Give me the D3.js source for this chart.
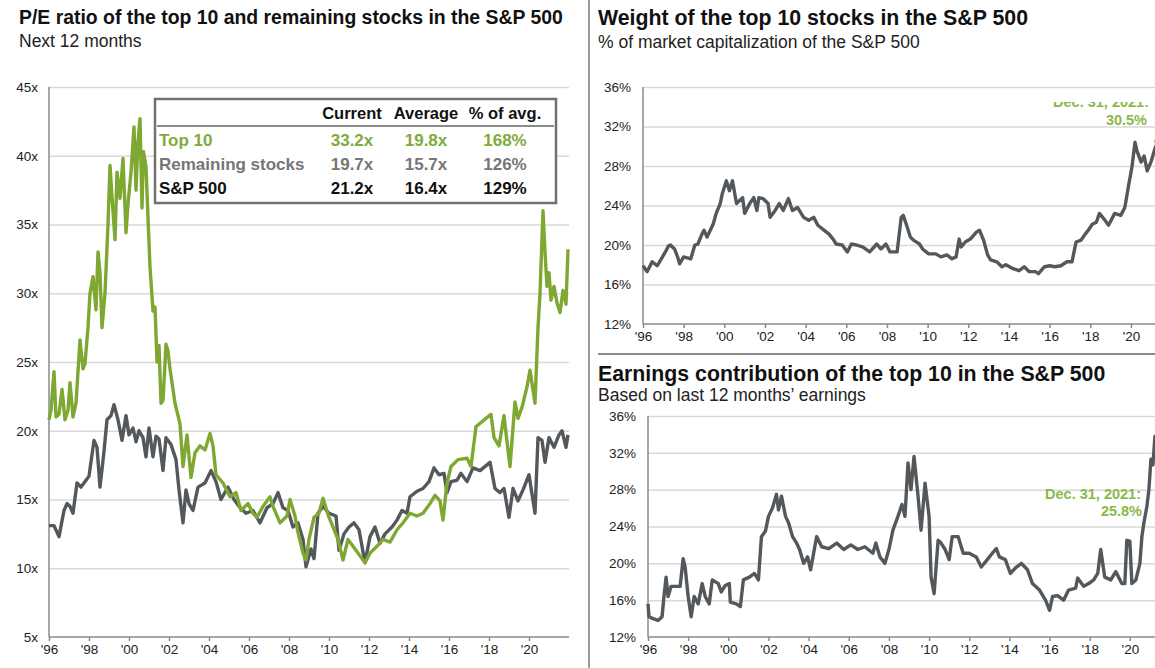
<!DOCTYPE html>
<html>
<head>
<meta charset="utf-8">
<script src="https://cdn.jsdelivr.net/npm/d3@7"></script>
<style>
  body { margin: 0; background: #fff; }
  svg text { font-family: "Liberation Sans", Arial, sans-serif; }
  .grid line { stroke: #d9d9d9; stroke-width: 1.5; }
  .grid path { display: none; }
  .axis path, .axis line { stroke: #8a8a8a; stroke-width: 1.5; }
  .axis text { fill: #222; font-size: 13.5px; }
</style>
</head>
<body>
<svg id="chart" width="1155" height="668"></svg>
<script>
// ---- data ----
const yearTicks = d3.range(1996, 2021, 2);
const peTicks = [5, 10, 15, 20, 25, 30, 35, 40, 45];
const pctTicks = [12, 16, 20, 24, 28, 32, 36];

const top10Dates = [1996.0,1996.1,1996.25,1996.35,1996.5,1996.65,1996.8,1996.95,1997.05,1997.2,1997.35,1997.55,1997.7,1997.8,1997.95,
  1998.05,1998.2,1998.35,1998.45,1998.55,1998.65,1998.8,1998.95,1999.05,1999.15,1999.3,1999.4,1999.55,1999.7,1999.85,1999.95,
  2000.1,2000.25,2000.35,2000.45,2000.55,2000.65,2000.72,2000.85,2000.95,2001.05,2001.2,2001.3,2001.4,2001.5,2001.6,2001.7,2001.85,
  2001.95,2002.05,2002.3,2002.55,2002.7,2002.9,2003.1,2003.3,2003.55,2003.8,2004.05,2004.2,2004.35,2004.7,2005.05,2005.35,2005.6,
  2005.95,2006.2,2006.4,2006.7,2007.05,2007.2,2007.55,2007.9,2008.05,2008.3,2008.45,2008.7,2008.85,2009.0,2009.25,2009.5,2009.7,
  2009.95,2010.2,2010.45,2010.7,2010.95,2011.2,2011.55,2011.8,2012.05,2012.4,2012.7,2013.05,2013.4,2013.7,2014.05,2014.4,2014.7,
  2015.05,2015.3,2015.55,2015.7,2015.9,2016.1,2016.45,2016.9,2017.1,2017.35,2017.6,2017.85,2018.1,2018.25,2018.5,2018.75,2018.9,
  2019.05,2019.3,2019.45,2019.65,2019.9,2020.05,2020.3,2020.45,2020.55,2020.7,2020.8,2020.9,2021.0,2021.1,2021.25,2021.4,2021.55,
  2021.7,2021.85,2021.95];
const top10PE = [20.8,21.5,24.3,21.0,21.2,23.0,20.8,21.5,23.5,21.0,22.0,26.6,24.5,24.9,27.5,
  30.0,31.2,28.8,33.0,31.5,27.5,30.0,35.0,39.3,37.0,33.9,38.8,36.9,39.8,34.4,36.5,
  38.8,42.1,37.5,41.0,42.7,36.2,40.3,39.2,35.5,31.9,28.7,29.0,25.0,26.2,22.0,22.2,26.3,
  25.8,24.5,22.0,20.5,17.4,19.7,16.6,18.4,18.9,18.6,19.8,18.9,16.8,16.2,15.2,15.5,14.2,
  14.7,14.0,13.7,14.5,15.2,14.5,13.3,13.8,15.0,13.8,12.6,11.1,10.6,12.1,13.7,14.0,15.1,
  13.9,13.0,12.1,10.6,12.1,11.6,10.9,10.4,11.1,11.6,12.1,11.9,12.8,13.3,14.0,13.8,14.0,
  14.7,15.3,14.9,13.5,16.2,17.4,17.9,18.0,17.4,20.3,20.6,20.9,21.2,19.5,18.9,21.1,19.2,
  17.4,22.1,20.9,21.7,23.2,24.4,22.0,27.5,30.0,36.0,33.0,30.5,31.5,29.5,30.5,29.3,28.6,
  30.2,29.2,33.2];

const restDates = [1996.0,1996.25,1996.5,1996.75,1996.9,1997.05,1997.2,1997.4,1997.6,1997.85,1998.0,1998.25,1998.4,1998.55,1998.75,
  1998.9,1999.1,1999.25,1999.45,1999.65,1999.85,2000.0,2000.2,2000.35,2000.5,2000.7,2000.85,2001.0,2001.2,2001.35,2001.5,2001.7,
  2001.85,2002.1,2002.35,2002.5,2002.7,2002.85,2003.0,2003.2,2003.45,2003.8,2004.1,2004.35,2004.6,2004.95,2005.25,2005.5,2005.85,
  2006.2,2006.55,2006.9,2007.2,2007.45,2007.7,2007.95,2008.2,2008.45,2008.7,2008.85,2009.1,2009.25,2009.45,2009.7,2010.0,2010.35,
  2010.5,2010.75,2011.0,2011.25,2011.5,2011.8,2012.05,2012.3,2012.55,2012.8,2013.15,2013.4,2013.65,2013.9,2014.05,2014.4,2014.7,
  2015.0,2015.25,2015.5,2015.75,2015.9,2016.1,2016.4,2016.6,2016.9,2017.2,2017.55,2018.05,2018.3,2018.55,2018.75,2019.0,2019.2,
  2019.45,2019.7,2020.0,2020.3,2020.45,2020.65,2020.8,2021.0,2021.25,2021.5,2021.65,2021.85,2021.95];
const restPE = [13.1,13.1,12.3,14.2,14.7,14.5,14.0,16.2,15.9,16.4,16.7,19.3,18.8,15.9,18.5,
  20.8,21.1,21.9,20.8,19.3,21.1,19.7,20.2,19.2,20.0,19.5,18.1,20.2,18.1,19.6,19.4,17.1,
  19.5,19.0,17.9,15.7,13.3,15.7,14.7,14.2,15.9,16.2,17.1,16.3,15.0,15.9,15.0,14.5,14.0,
  14.2,13.3,14.4,14.7,15.5,14.4,14.2,13.0,13.3,12.1,10.1,11.4,10.7,14.0,14.5,14.0,13.8,
  11.3,12.5,13.0,13.3,12.8,10.4,12.3,13.0,11.8,12.5,13.0,13.5,14.2,14.0,15.2,15.6,15.8,
  16.3,17.3,16.8,16.9,15.5,16.3,16.4,16.9,16.3,17.3,17.1,17.7,15.8,15.5,15.8,13.7,15.8,
  14.9,15.7,16.8,14.0,19.5,19.3,17.7,19.5,18.8,19.7,20.0,18.8,19.7];

const weightDates = [1996.0,1996.2,1996.45,1996.7,1996.9,1997.1,1997.25,1997.35,1997.55,1997.7,1997.8,1998.0,1998.35,1998.55,1998.7,
  1998.9,1999.0,1999.15,1999.45,1999.6,1999.8,1999.9,2000.1,2000.25,2000.4,2000.6,2000.9,2001.0,2001.25,2001.45,2001.6,2001.7,
  2001.9,2002.15,2002.25,2002.5,2002.7,2002.9,2003.15,2003.35,2003.6,2003.9,2004.15,2004.4,2004.6,2004.9,2005.15,2005.35,2005.5,
  2005.8,2006.05,2006.25,2006.5,2006.8,2007.15,2007.5,2007.7,2007.95,2008.15,2008.5,2008.7,2008.8,2008.95,2009.15,2009.3,2009.6,
  2009.75,2010.05,2010.4,2010.65,2010.95,2011.2,2011.4,2011.55,2011.65,2011.85,2012.1,2012.4,2012.55,2012.75,2012.95,2013.1,
  2013.4,2013.65,2013.85,2014.2,2014.5,2014.75,2015.0,2015.3,2015.45,2015.75,2016.0,2016.25,2016.55,2016.85,2017.1,2017.3,
  2017.55,2017.75,2017.9,2018.1,2018.3,2018.45,2018.65,2018.9,2019.2,2019.5,2019.7,2019.9,2020.05,2020.2,2020.3,2020.5,
  2020.65,2020.8,2021.0,2021.2,2021.35];
const weightPct = [17.9,17.3,18.3,17.9,18.6,19.3,19.9,20.0,19.6,18.8,18.1,18.8,18.6,20.0,20.1,
  21.1,21.5,20.8,22.1,23.2,24.2,25.2,26.5,25.5,26.5,24.2,24.8,23.2,24.2,24.8,23.5,24.8,
  24.7,24.2,22.8,23.5,24.2,23.5,24.7,23.5,23.8,22.8,22.5,22.8,22.0,21.5,21.1,20.6,20.1,
  20.0,19.3,20.1,20.0,19.8,19.3,20.1,19.6,20.1,19.3,19.3,22.8,23.0,22.1,20.8,20.5,20.1,
  19.6,19.1,19.1,18.8,19.0,18.6,18.8,20.6,19.8,20.3,20.6,21.3,21.5,20.5,19.0,18.5,
  18.3,17.8,18.0,17.6,17.4,17.8,17.3,17.3,17.1,17.8,17.9,17.8,17.9,18.3,18.3,20.3,
  20.5,21.1,21.5,22.1,22.3,23.2,22.7,22.0,23.2,23.0,23.8,26.2,27.9,30.4,29.5,28.4,
  29.0,27.5,28.5,29.9,30.5];

const earnDates = [1996.0,1996.05,1996.25,1996.5,1996.7,1996.8,1996.9,1997.0,1997.15,1997.4,1997.6,1997.75,1997.85,1998.0,1998.15,
  1998.3,1998.5,1998.7,1998.85,1999.05,1999.2,1999.5,1999.65,1999.85,2000.05,2000.1,2000.4,2000.6,2000.75,2001.05,2001.3,2001.5,
  2001.65,2001.85,2002.0,2002.2,2002.4,2002.5,2002.65,2002.85,2003.0,2003.2,2003.4,2003.55,2003.75,2003.95,2004.1,2004.4,2004.65,
  2005.0,2005.4,2005.75,2006.1,2006.45,2006.8,2007.2,2007.35,2007.55,2007.8,2008.0,2008.2,2008.45,2008.65,2008.8,2008.95,2009.1,
  2009.25,2009.45,2009.6,2009.8,2010.0,2010.1,2010.25,2010.45,2010.6,2010.8,2011.0,2011.15,2011.45,2011.7,2012.0,2012.35,2012.6,
  2012.9,2013.15,2013.35,2013.5,2013.8,2014.05,2014.35,2014.6,2014.9,2015.15,2015.5,2015.8,2016.0,2016.15,2016.4,2016.7,2016.95,
  2017.3,2017.4,2017.7,2017.95,2018.2,2018.4,2018.55,2018.75,2019.05,2019.3,2019.6,2019.75,2019.85,2020.0,2020.1,2020.3,2020.5,
  2020.6,2020.7,2020.85,2020.95,2021.05,2021.15,2021.25,2021.35,2021.45,2021.7,2021.95];
const earnPct = [15.6,14.2,14.0,13.8,14.2,16.5,18.5,16.4,17.5,17.5,17.5,20.5,19.6,16.4,14.2,
  16.4,15.6,17.8,16.4,15.6,18.2,17.8,16.9,17.6,17.8,15.8,15.6,15.3,18.2,18.5,18.9,18.2,
  22.9,23.5,25.1,26.0,27.5,25.8,27.3,25.1,24.4,22.9,22.2,21.5,20.0,20.7,19.3,22.9,21.8,
  21.6,22.2,21.5,22.0,21.5,21.8,21.1,22.2,20.7,20.0,21.5,23.6,25.1,26.4,25.1,30.9,28.0,
  31.6,27.3,23.6,28.7,25.1,18.5,16.7,22.5,22.2,21.5,20.4,22.9,22.9,21.1,21.1,20.7,19.6,
  20.4,21.1,21.6,20.7,20.4,18.9,19.6,20.0,19.3,17.8,17.1,16.0,14.9,16.4,16.5,16.0,17.1,
  17.3,18.4,17.5,17.8,18.2,18.9,21.5,18.5,18.2,19.1,17.8,17.8,22.5,22.4,17.8,18.2,20.0,
  22.9,24.4,26.2,28.0,31.3,30.7,33.8,31.5,32.0,29.0,25.8];

const tableHeader = ["Current", "Average", "% of avg."];
const tableRows = [
  { name: "Top 10", values: ["33.2x", "19.8x", "168%"], color: "#7fab3c" },
  { name: "Remaining stocks", values: ["19.7x", "15.7x", "126%"], color: "#767676" },
  { name: "S&P 500", values: ["21.2x", "16.4x", "129%"], color: "#111" }
];

const green = "#7ea832";
const grey = "#53585d";
const noteGreen = "#8bb84a";
const svg = d3.select("#chart");
const yearFmt = d => "'" + String(d % 100).padStart(2, "0");

function panel({ xRange, yRange, yDomain, yTicks, yFmt, gridRight, series, tickLabelX }) {
  const x = d3.scaleLinear().domain([1996, 2022]).range(xRange);
  const y = d3.scaleLinear().domain(yDomain).range(yRange);
  const g = svg.append("g");

  g.append("g").attr("class", "grid")
    .attr("transform", `translate(${xRange[0]},0)`)
    .call(d3.axisLeft(y).tickValues(yTicks.slice(1)).tickSize(-(gridRight - xRange[0])).tickFormat(""));

  const yAxis = g.append("g").attr("class", "axis")
    .attr("transform", `translate(${xRange[0]},0)`)
    .call(d3.axisLeft(y).tickValues(yTicks).tickSize(0).tickPadding(tickLabelX).tickFormat(yFmt));
  yAxis.select(".domain").attr("d", `M0,${yRange[1]}V${yRange[0]}`);

  const xAxis = g.append("g").attr("class", "axis")
    .attr("transform", `translate(0,${yRange[0]})`)
    .call(d3.axisBottom(x).tickValues(yearTicks).tickSize(4).tickPadding(3).tickFormat(yearFmt));
  xAxis.select(".domain").attr("d", `M${xRange[0]},0H${gridRight}`);

  const line = d3.line().x(d => x(d[0])).y(d => y(d[1]));
  series.forEach(s => {
    g.append("path")
      .datum(d3.zip(s.dates, s.values))
      .attr("fill", "none")
      .attr("stroke", s.color)
      .attr("stroke-width", 3.4)
      .attr("stroke-linejoin", "round")
      .attr("d", line);
  });
  return { x, y, g };
}

// ---- left: P/E ratios ----
svg.append("text").attr("x", 19).attr("y", 24).attr("font-size", 19.4).attr("font-weight", "bold")
  .attr("fill", "#111").text("P/E ratio of the top 10 and remaining stocks in the S&P 500");
svg.append("text").attr("x", 19).attr("y", 47).attr("font-size", 17.5).attr("fill", "#222").text("Next 12 months");

panel({
  xRange: [49, 569], yRange: [637, 87], yDomain: [5, 45], yTicks: peTicks,
  yFmt: d => d + "x", gridRight: 569, tickLabelX: 11,
  series: [
    { dates: restDates, values: restPE, color: grey },
    { dates: top10Dates, values: top10PE, color: green }
  ]
});

// summary table
const tb = svg.append("g");
tb.append("rect").attr("x", 155).attr("y", 99).attr("width", 401).attr("height", 104)
  .attr("fill", "#fff").attr("stroke", "#707070").attr("stroke-width", 2.5);
tb.append("line").attr("x1", 157).attr("x2", 554).attr("y1", 126).attr("y2", 126)
  .attr("stroke", "#8a8a8a").attr("stroke-width", 2);
const colX = [352, 426, 505];
tb.selectAll("text.hdr").data(tableHeader).join("text").attr("class", "hdr")
  .attr("x", (d, i) => colX[i]).attr("y", 119).attr("text-anchor", "middle")
  .attr("font-size", 16.5).attr("font-weight", "bold").attr("fill", "#111").text(d => d);
tableRows.forEach((r, i) => {
  const yy = 146 + i * 24;
  tb.append("text").attr("x", 159).attr("y", yy).attr("font-size", 17).attr("font-weight", "bold")
    .attr("fill", r.color).text(r.name);
  r.values.forEach((v, j) => {
    tb.append("text").attr("x", colX[j]).attr("y", yy).attr("text-anchor", "middle")
      .attr("font-size", 17).attr("font-weight", "bold").attr("fill", r.color).text(v);
  });
});

// separators
svg.append("line").attr("x1", 589).attr("x2", 589).attr("y1", 0).attr("y2", 668)
  .attr("stroke", "#9a9a9a").attr("stroke-width", 2);
svg.append("line").attr("x1", 598).attr("x2", 1155).attr("y1", 354).attr("y2", 354)
  .attr("stroke", "#8a8a8a").attr("stroke-width", 2);

// ---- right top: weight ----
svg.append("text").attr("x", 598).attr("y", 25).attr("font-size", 21.3).attr("font-weight", "bold")
  .attr("fill", "#111").text("Weight of the top 10 stocks in the S&P 500");
svg.append("text").attr("x", 598).attr("y", 48).attr("font-size", 17.5).attr("fill", "#222")
  .text("% of market capitalization of the S&P 500");

const wt = panel({
  xRange: [643, 1171.6], yRange: [324, 87], yDomain: [12, 36], yTicks: pctTicks,
  yFmt: d => d + "%", gridRight: 1155, tickLabelX: 12,
  series: [{ dates: weightDates, values: weightPct, color: grey }]
});
const lastW = weightDates.length - 1;
wt.g.append("circle").attr("cx", wt.x(weightDates[lastW])).attr("cy", wt.y(weightPct[lastW]))
  .attr("r", 4).attr("fill", green);
svg.append("clipPath").attr("id", "annClip").append("rect")
  .attr("x", 1000).attr("y", 102).attr("width", 155).attr("height", 40);
const ann1 = svg.append("g").attr("clip-path", "url(#annClip)");
ann1.append("text").attr("x", 1149).attr("y", 107).attr("text-anchor", "end").attr("font-size", 14.5)
  .attr("font-weight", "bold").attr("fill", noteGreen).text("Dec. 31, 2021:");
ann1.append("text").attr("x", 1147).attr("y", 125).attr("text-anchor", "end").attr("font-size", 14.5)
  .attr("font-weight", "bold").attr("fill", noteGreen).text("30.5%");

// ---- right bottom: earnings ----
svg.append("text").attr("x", 598).attr("y", 381).attr("font-size", 21.3).attr("font-weight", "bold")
  .attr("fill", "#111").text("Earnings contribution of the top 10 in the S&P 500");
svg.append("text").attr("x", 598).attr("y", 401).attr("font-size", 17.5).attr("fill", "#222")
  .text("Based on last 12 months\u2019 earnings");

panel({
  xRange: [648, 1170], yRange: [637, 416], yDomain: [12, 36], yTicks: pctTicks,
  yFmt: d => d + "%", gridRight: 1155, tickLabelX: 12,
  series: [{ dates: earnDates, values: earnPct, color: grey }]
});
svg.append("text").attr("x", 1141).attr("y", 499).attr("text-anchor", "end").attr("font-size", 14.5)
  .attr("font-weight", "bold").attr("fill", noteGreen).text("Dec. 31, 2021:");
svg.append("text").attr("x", 1142).attr("y", 516).attr("text-anchor", "end").attr("font-size", 14.5)
  .attr("font-weight", "bold").attr("fill", noteGreen).text("25.8%");
</script>
</body>
</html>
